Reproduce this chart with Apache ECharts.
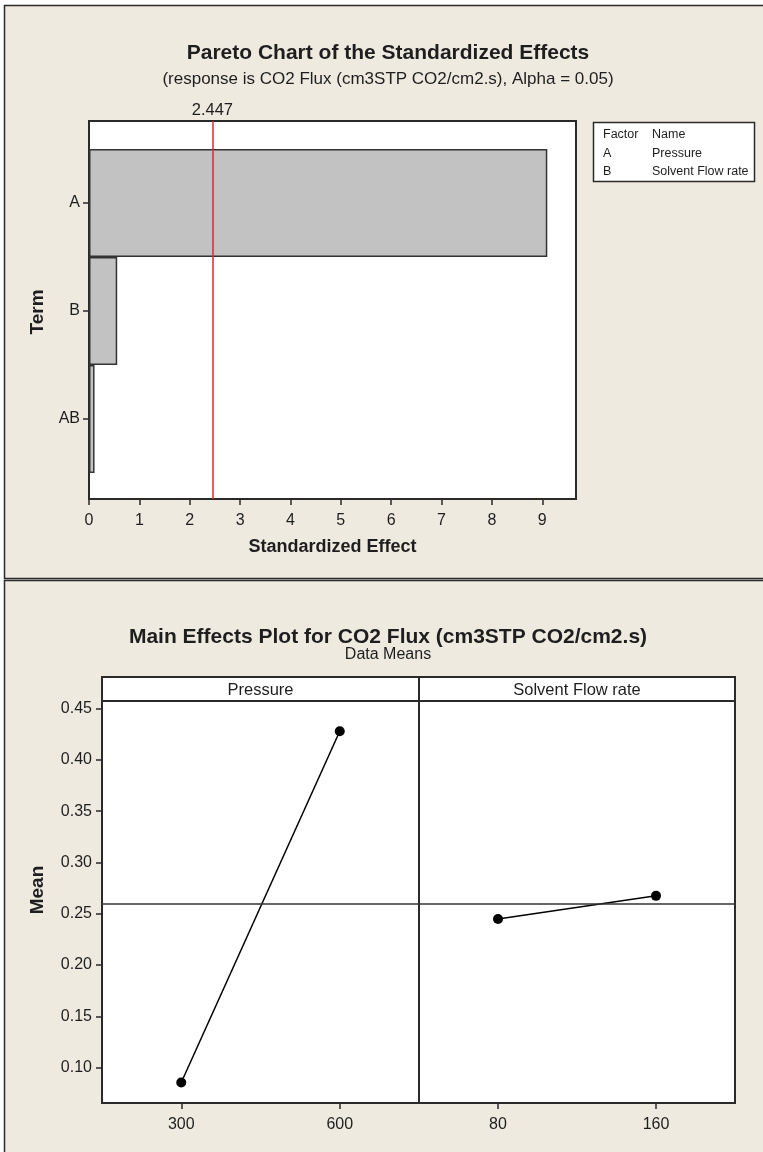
<!DOCTYPE html>
<html>
<head>
<meta charset="utf-8">
<script src="https://cdn.jsdelivr.net/npm/echarts@6/dist/echarts.min.js"></script>
<style>
  html, body { margin: 0; padding: 0; background: #ffffff; }
  #chart { width: 763px; height: 1152px; }
</style>
</head>
<body>
<div id="chart"></div>
<script>
// Pareto chart of standardized effects
const terms = ['A', 'B', 'AB'];
const standardizedEffects = [9.10, 0.56, 0.11];
const criticalValue = 2.447;
const effectTicks = [0, 1, 2, 3, 4, 5, 6, 7, 8, 9];
const factorRows = [
  ['Factor', 'Name'],
  ['A', 'Pressure'],
  ['B', 'Solvent Flow rate']
];

// Main effects plot (data means)
const pressureLevels = ['300', '600'];
const pressureMeans = [0.0855, 0.428];
const flowLevels = ['80', '160'];
const flowMeans = [0.245, 0.2675];
const grandMean = 0.261;
const meanTicks = [0.10, 0.15, 0.20, 0.25, 0.30, 0.35, 0.40, 0.45];

const FONT = "'Liberation Sans', Arial, sans-serif";
const INK = '#1e1e1e';
const FRAME = '#2a2a2a';
const PANEL_BG = '#EEEAE0';

const chart = echarts.init(document.getElementById('chart'), null, { renderer: 'canvas' });

function txt(text, x, y, size, opts) {
  opts = opts || {};
  return {
    type: 'text', x: x, y: y, rotation: opts.rotation || 0, z: 20,
    style: {
      text: text, fill: INK, fontFamily: FONT,
      fontSize: size, fontWeight: opts.bold ? 'bold' : 'normal',
      align: opts.align || 'center', verticalAlign: 'middle'
    }
  };
}

const graphics = [
  // white page margin
  { type: 'rect', shape: { x: 0, y: 0, width: 763, height: 5 }, style: { fill: '#fff' }, z: 1 },
  { type: 'rect', shape: { x: 0, y: 0, width: 4, height: 1152 }, style: { fill: '#fff' }, z: 1 },
  // panel frames
  { type: 'rect', shape: { x: 4.5, y: 5.5, width: 800, height: 573 }, style: { fill: null, stroke: FRAME, lineWidth: 1.5 }, z: 2 },
  { type: 'rect', shape: { x: 4.5, y: 580.5, width: 800, height: 620 }, style: { fill: null, stroke: FRAME, lineWidth: 1.5 }, z: 2 },

  // Pareto titles
  txt('Pareto Chart of the Standardized Effects', 388, 53, 21, { bold: true }),
  txt('(response is CO2 Flux (cm3STP CO2/cm2.s), Alpha = 0.05)', 388, 79, 17),
  txt('Term', 38, 312, 19, { bold: true, rotation: Math.PI / 2 }),

  // factor table box
  { type: 'rect', shape: { x: 593.5, y: 122.5, width: 161, height: 59 }, style: { fill: '#fff', stroke: FRAME, lineWidth: 1.5 }, z: 10 },

  // main effects titles
  txt('Main Effects Plot for CO2 Flux (cm3STP CO2/cm2.s)', 388, 637, 21, { bold: true }),
  txt('Data Means', 388, 655, 16),
  txt('Mean', 38, 890, 19, { bold: true, rotation: Math.PI / 2 }),

  // panel strip
  { type: 'rect', shape: { x: 102, y: 677, width: 633, height: 24 }, style: { fill: '#fff', stroke: FRAME, lineWidth: 2 }, z: 10 },
  { type: 'line', shape: { x1: 419, y1: 677, x2: 419, y2: 701 }, style: { stroke: FRAME, lineWidth: 2 }, z: 11 },
  txt('Pressure', 260.5, 690, 16.5),
  txt('Solvent Flow rate', 577, 690, 16.5)
];

factorRows.forEach(function (row, i) {
  graphics.push(txt(row[0], 603, 135 + i * 18.5, 12.5, { align: 'left' }));
  graphics.push(txt(row[1], 652, 135 + i * 18.5, 12.5, { align: 'left' }));
});

const axisLineStyle = { color: FRAME, width: 2 };
const tickStyle = { color: FRAME, width: 1.5 };
const labelStyle = { color: INK, fontFamily: FONT, fontSize: 16 };

const option = {
  backgroundColor: PANEL_BG,
  animation: false,
  textStyle: { fontFamily: FONT },
  grid: [
    // Pareto plot frame
    { left: 89, top: 121, width: 487, height: 378, show: true, backgroundColor: '#fff', borderColor: FRAME, borderWidth: 2 },
    // Pareto bar band
    { left: 89, top: 149, width: 487, height: 324 },
    // Pressure panel
    { left: 102, top: 701, width: 317, height: 402, show: true, backgroundColor: '#fff', borderColor: FRAME, borderWidth: 2 },
    // Solvent flow panel
    { left: 419, top: 701, width: 316, height: 402, show: true, backgroundColor: '#fff', borderColor: FRAME, borderWidth: 2 }
  ],
  xAxis: [
    {
      gridIndex: 0, type: 'value', min: 0, max: 9.67,
      axisLine: { show: true, lineStyle: axisLineStyle },
      axisTick: { show: true, length: 6, lineStyle: tickStyle, customValues: effectTicks },
      axisLabel: Object.assign({ margin: 14, customValues: effectTicks }, labelStyle),
      splitLine: { show: false },
      name: 'Standardized Effect', nameLocation: 'middle', nameGap: 39,
      nameTextStyle: { color: INK, fontFamily: FONT, fontSize: 18, fontWeight: 'bold' }
    },
    { gridIndex: 1, type: 'value', min: 0, max: 9.67, show: false },
    {
      gridIndex: 2, type: 'category', data: pressureLevels, boundaryGap: true,
      axisLine: { show: true, lineStyle: axisLineStyle },
      axisTick: { show: true, length: 6, alignWithLabel: true, lineStyle: tickStyle },
      axisLabel: Object.assign({ margin: 14 }, labelStyle)
    },
    {
      gridIndex: 3, type: 'category', data: flowLevels, boundaryGap: true,
      axisLine: { show: true, lineStyle: axisLineStyle },
      axisTick: { show: true, length: 6, alignWithLabel: true, lineStyle: tickStyle },
      axisLabel: Object.assign({ margin: 14 }, labelStyle)
    }
  ],
  yAxis: [
    { gridIndex: 0, type: 'value', min: 0, max: 1, show: false },
    {
      gridIndex: 1, type: 'category', data: terms, inverse: true,
      axisLine: { show: false },
      axisTick: { show: true, length: 6, alignWithLabel: true, lineStyle: tickStyle },
      axisLabel: Object.assign({ margin: 9 }, labelStyle)
    },
    {
      gridIndex: 2, type: 'value', min: 0.0655, max: 0.4575,
      axisLine: { show: true, lineStyle: axisLineStyle },
      axisTick: { show: true, length: 6, lineStyle: tickStyle, customValues: meanTicks },
      axisLabel: Object.assign({ margin: 10, customValues: meanTicks, formatter: function (v) { return v.toFixed(2); } }, labelStyle),
      splitLine: { show: false }
    },
    { gridIndex: 3, type: 'value', min: 0.0655, max: 0.4575, show: false }
  ],
  series: [
    {
      // reference line at the critical t value
      type: 'scatter', xAxisIndex: 0, yAxisIndex: 0, symbolSize: 0, silent: true,
      data: [[criticalValue, 0.5]],
      markLine: {
        silent: true, symbol: ['none', 'none'],
        lineStyle: { color: '#E3262B', width: 1.5, type: 'solid' },
        label: {
          show: true, position: 'end', distance: 2,
          color: INK, fontFamily: FONT, fontSize: 16.5,
          formatter: function () { return String(criticalValue); }
        },
        data: [{ xAxis: criticalValue }]
      }
    },
    {
      type: 'bar', xAxisIndex: 1, yAxisIndex: 1,
      barCategoryGap: '0%',
      data: standardizedEffects,
      itemStyle: { color: '#C2C2C2', borderColor: '#333', borderWidth: 1.5 }
    },
    {
      type: 'line', xAxisIndex: 2, yAxisIndex: 2,
      data: pressureMeans,
      symbol: 'circle', symbolSize: 10,
      itemStyle: { color: '#000' },
      lineStyle: { color: '#000', width: 1.5 },
      markLine: {
        silent: true, symbol: ['none', 'none'], label: { show: false },
        lineStyle: { color: '#333', width: 1.5, type: 'solid' },
        data: [{ yAxis: grandMean }]
      }
    },
    {
      type: 'line', xAxisIndex: 3, yAxisIndex: 3,
      data: flowMeans,
      symbol: 'circle', symbolSize: 10,
      itemStyle: { color: '#000' },
      lineStyle: { color: '#000', width: 1.5 },
      markLine: {
        silent: true, symbol: ['none', 'none'], label: { show: false },
        lineStyle: { color: '#333', width: 1.5, type: 'solid' },
        data: [{ yAxis: grandMean }]
      }
    }
  ],
  graphic: { elements: graphics }
};

chart.setOption(option);
</script>
</body>
</html>
